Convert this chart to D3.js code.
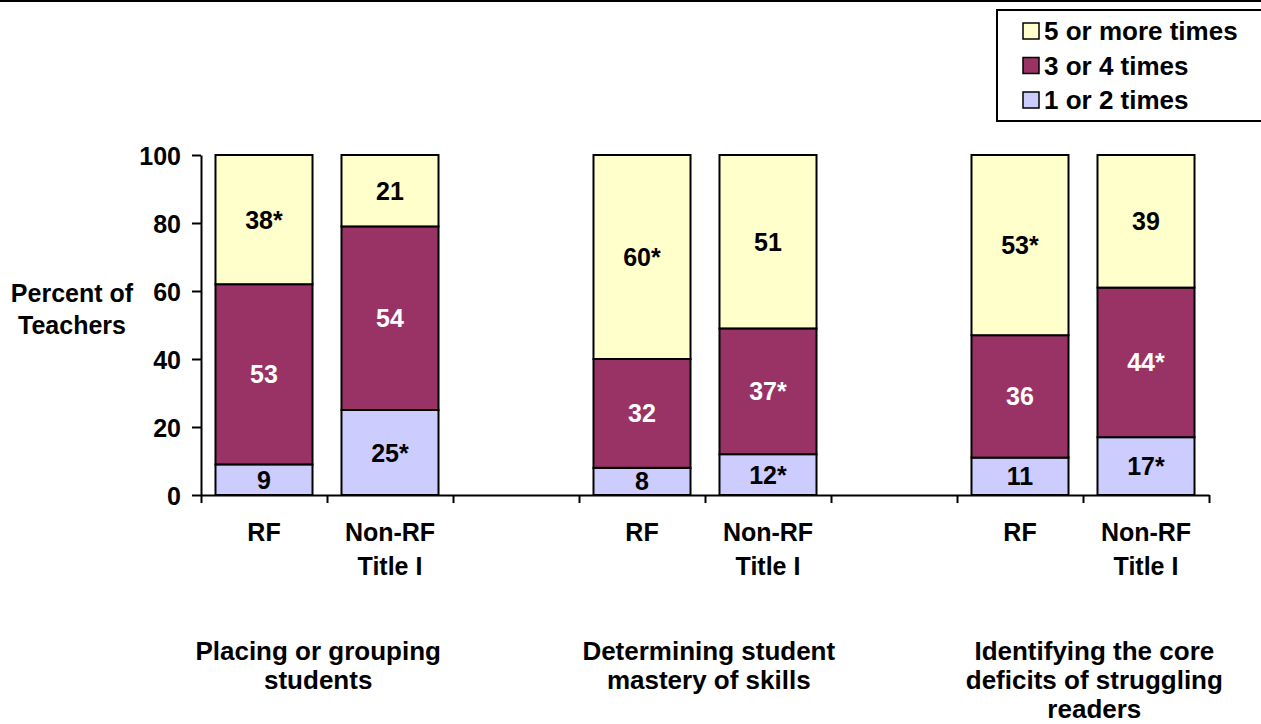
<!DOCTYPE html>
<html>
<head>
<meta charset="utf-8">
<script src="https://cdn.jsdelivr.net/npm/d3@7"></script>
<style>
  html, body { margin: 0; padding: 0; background: #fff; }
  svg { display: block; }
  text { font-family: Arial, "Liberation Sans", sans-serif; font-weight: bold; fill: #000; }
</style>
</head>
<body>
<div id="chart"></div>
<script>
// stacked percent bars, 3 groups x (RF, Non-RF Title I), blank slot between groups
const slots = ["g1RF", "g1NR", "gap1", "g2RF", "g2NR", "gap2", "g3RF", "g3NR"];
const barSlots = ["g1RF", "g1NR", "g2RF", "g2NR", "g3RF", "g3NR"];
const barNames = [["RF"], ["Non-RF", "Title I"], ["RF"], ["Non-RF", "Title I"], ["RF"], ["Non-RF", "Title I"]];
const series = ["1 or 2 times", "3 or 4 times", "5 or more times"];
const oneOrTwo = [9, 25, 8, 12, 11, 17];
const threeOrFour = [53, 54, 32, 37, 36, 44];
const fiveOrMore = [38, 21, 60, 51, 53, 39];
const oneOrTwoSig = [false, true, false, true, false, true];
const threeOrFourSig = [false, false, false, true, false, true];
const fiveOrMoreSig = [true, false, true, false, true, false];
const groupLabels = [
  ["Placing or grouping", "students"],
  ["Determining student", "mastery of skills"],
  ["Identifying the core", "deficits of struggling", "readers"]
];
const groupSlotPos = [0.93, 4.03, 7.09]; // label centre, in slot units
const yTicks = [0, 20, 40, 60, 80, 100];
const yTitle = ["Percent of", "Teachers"];

const colors = { "1 or 2 times": "#ccccff", "3 or 4 times": "#993366", "5 or more times": "#ffffcc" };
const labelColors = { "1 or 2 times": "#000", "3 or 4 times": "#fff", "5 or more times": "#000" };

const W = 1261, H = 724;
const plot = { left: 201, right: 1209, top: 155, bottom: 495 };
const fs = 25;

const rows = barSlots.map((s, i) => ({
  slot: s,
  "1 or 2 times": oneOrTwo[i],
  "3 or 4 times": threeOrFour[i],
  "5 or more times": fiveOrMore[i],
  sig: { "1 or 2 times": oneOrTwoSig[i], "3 or 4 times": threeOrFourSig[i], "5 or more times": fiveOrMoreSig[i] }
}));
const stacked = d3.stack().keys(series)(rows);

const svg = d3.select("#chart").append("svg").attr("width", W).attr("height", H);

// top rule
svg.append("line").attr("x1", 0).attr("x2", W).attr("y1", 1).attr("y2", 1)
  .attr("stroke", "#000").attr("stroke-width", 2);

const x = d3.scaleBand().domain(slots).range([plot.left, plot.right])
  .paddingInner(0.23).paddingOuter(0.115);
const xl = d3.scaleLinear().domain([0, slots.length]).range([plot.left, plot.right]);
const y = d3.scaleLinear().domain([0, 100]).range([plot.bottom, plot.top]);

// bars
const layers = svg.append("g").selectAll("g").data(stacked).join("g")
  .attr("fill", d => colors[d.key]);
layers.selectAll("rect").data(d => d.map(p => ({ p, key: d.key }))).join("rect")
  .attr("x", d => x(d.p.data.slot))
  .attr("width", x.bandwidth())
  .attr("y", d => y(d.p[1]))
  .attr("height", d => y(d.p[0]) - y(d.p[1]))
  .attr("stroke", "#000").attr("stroke-width", 2);

// value labels
layers.selectAll("text").data(d => d.map(p => ({ p, key: d.key }))).join("text")
  .attr("x", d => x(d.p.data.slot) + x.bandwidth() / 2)
  .attr("y", d => (y(d.p[0]) + y(d.p[1])) / 2)
  .attr("text-anchor", "middle").attr("dy", "0.36em")
  .attr("font-size", fs)
  .style("fill", d => labelColors[d.key])
  .text(d => d.p.data[d.key] + (d.p.data.sig[d.key] ? "*" : ""));

// y axis
const gy = svg.append("g").attr("transform", `translate(${plot.left},0)`)
  .call(d3.axisLeft(y).tickValues(yTicks).tickSize(9).tickPadding(11).tickSizeOuter(0));
gy.select(".domain").attr("stroke-width", 2);
gy.selectAll(".tick line").attr("stroke-width", 2);
gy.selectAll(".tick text").attr("font-size", fs).attr("font-family", null).attr("dy", "0.36em");

// x axis, ticks between categories
const gx = svg.append("g").attr("transform", `translate(0,${plot.bottom})`)
  .call(d3.axisBottom(xl).tickValues(d3.range(slots.length + 1)).tickSize(8).tickFormat("").tickSizeOuter(0));
gx.select(".domain").attr("stroke-width", 2);
gx.selectAll(".tick line").attr("stroke-width", 2);

// category names
svg.append("g").selectAll("text").data(barSlots).join("text")
  .attr("x", s => x(s) + x.bandwidth() / 2)
  .attr("y", 532)
  .attr("text-anchor", "middle").attr("font-size", fs)
  .selectAll("tspan").data((s, i) => barNames[i]).join("tspan")
  .attr("x", function () { return d3.select(this.parentNode).attr("x"); })
  .attr("dy", (d, i) => i === 0 ? "0.36em" : 34)
  .text(d => d);

// group names
svg.append("g").selectAll("text").data(groupLabels).join("text")
  .attr("x", (d, i) => xl(groupSlotPos[i]))
  .attr("y", 651)
  .attr("text-anchor", "middle").attr("font-size", 26)
  .each(function (lines, i) {
    d3.select(this).selectAll("tspan").data(lines).join("tspan")
      .attr("x", xl(groupSlotPos[i]))
      .attr("dy", (d, j) => j === 0 ? "0.36em" : 29)
      .text(d => d);
  });

// y title
svg.append("text").attr("x", 72).attr("y", 293)
  .attr("text-anchor", "middle").attr("font-size", fs)
  .selectAll("tspan").data(yTitle).join("tspan")
  .attr("x", 72).attr("dy", (d, i) => i === 0 ? "0.36em" : 32)
  .text(d => d);

// legend
const lg = svg.append("g");
lg.append("rect").attr("x", 997).attr("y", 10).attr("width", 280).attr("height", 111)
  .attr("fill", "#fff").attr("stroke", "#000").attr("stroke-width", 2);
const legendRows = series.slice().reverse();
const ly = d3.scalePoint().domain(legendRows).range([31, 100]);
const li = lg.selectAll("g").data(legendRows).join("g")
  .attr("transform", d => `translate(1023,${ly(d)})`);
li.append("rect").attr("x", 0).attr("y", -8).attr("width", 16).attr("height", 16)
  .attr("fill", d => colors[d]).attr("stroke", "#000").attr("stroke-width", 1.5);
li.append("text").attr("x", 21).attr("dy", "0.36em").attr("font-size", 26).text(d => d);
</script>
</body>
</html>
